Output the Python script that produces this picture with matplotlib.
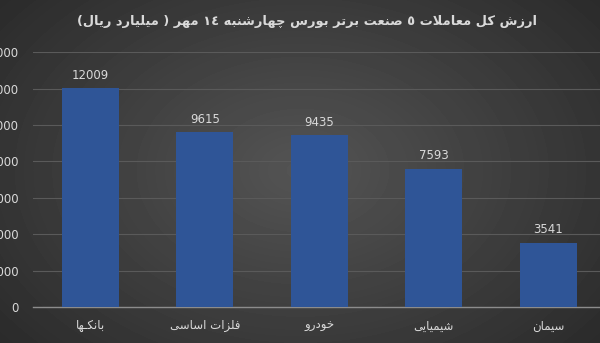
import numpy as np
import matplotlib
matplotlib.use("Agg")
import matplotlib.pyplot as plt

title = "ارزش کل معاملات ٥ صنعت برتر بورس چهارشنبه ١٤ مهر ( میلیارد ریال)"
categories = ["بانکـها", "فلزات اساسی", "خودرو", "شیمیایی", "سیمان"]
values = [12009, 9615, 9435, 7593, 3541]
yticks = [0, 2000, 4000, 6000, 8000, 10000, 12000, 14000]

# minimal arabic shaping (matplotlib has no shaping engine)
FORMS = {
    "ا": (0xFE8D, 0xFE8E), "د": (0xFEA9, 0xFEAA), "ذ": (0xFEAB, 0xFEAC),
    "ر": (0xFEAD, 0xFEAE), "ز": (0xFEAF, 0xFEB0), "و": (0xFEED, 0xFEEE),
    "ژ": (0xFB8A, 0xFB8B), "ة": (0xFE93, 0xFE94),
    "ب": (0xFE8F, 0xFE90, 0xFE91, 0xFE92), "ت": (0xFE95, 0xFE96, 0xFE97, 0xFE98),
    "ث": (0xFE99, 0xFE9A, 0xFE9B, 0xFE9C), "ج": (0xFE9D, 0xFE9E, 0xFE9F, 0xFEA0),
    "ح": (0xFEA1, 0xFEA2, 0xFEA3, 0xFEA4), "خ": (0xFEA5, 0xFEA6, 0xFEA7, 0xFEA8),
    "س": (0xFEB1, 0xFEB2, 0xFEB3, 0xFEB4), "ش": (0xFEB5, 0xFEB6, 0xFEB7, 0xFEB8),
    "ص": (0xFEB9, 0xFEBA, 0xFEBB, 0xFEBC), "ض": (0xFEBD, 0xFEBE, 0xFEBF, 0xFEC0),
    "ط": (0xFEC1, 0xFEC2, 0xFEC3, 0xFEC4), "ظ": (0xFEC5, 0xFEC6, 0xFEC7, 0xFEC8),
    "ع": (0xFEC9, 0xFECA, 0xFECB, 0xFECC), "غ": (0xFECD, 0xFECE, 0xFECF, 0xFED0),
    "ف": (0xFED1, 0xFED2, 0xFED3, 0xFED4), "ق": (0xFED5, 0xFED6, 0xFED7, 0xFED8),
    "ك": (0xFED9, 0xFEDA, 0xFEDB, 0xFEDC), "ل": (0xFEDD, 0xFEDE, 0xFEDF, 0xFEE0),
    "م": (0xFEE1, 0xFEE2, 0xFEE3, 0xFEE4), "ن": (0xFEE5, 0xFEE6, 0xFEE7, 0xFEE8),
    "ه": (0xFEE9, 0xFEEA, 0xFEEB, 0xFEEC), "ي": (0xFEF1, 0xFEF2, 0xFEF3, 0xFEF4),
    "پ": (0xFB56, 0xFB57, 0xFB58, 0xFB59), "چ": (0xFB7A, 0xFB7B, 0xFB7C, 0xFB7D),
    "ک": (0xFB8E, 0xFB8F, 0xFB90, 0xFB91), "گ": (0xFB92, 0xFB93, 0xFB94, 0xFB95),
    "ی": (0xFBFC, 0xFBFD, 0xFBFE, 0xFBFF),
}
TATWEEL = "\u0640"


def joins_next(c):
    return c == TATWEEL or (c in FORMS and len(FORMS[c]) == 4)


def joins(c):
    return c == TATWEEL or c in FORMS


def shape(s):
    s = s.replace("لا", "\uFEFB")
    out = []
    for i, c in enumerate(s):
        if c == "\uFEFB":
            prev = s[i - 1] if i > 0 else ""
            out.append("\uFEFC" if joins_next(prev) else c)
            continue
        if c not in FORMS:
            out.append(c)
            continue
        prev = s[i - 1] if i > 0 else ""
        nxt = s[i + 1] if i + 1 < len(s) else ""
        p = joins_next(prev)
        n = joins_next(c) and (joins(nxt) or nxt == "\uFEFB")
        f = FORMS[c]
        if p and n:
            out.append(chr(f[3]))
        elif p:
            out.append(chr(f[1]))
        elif n:
            out.append(chr(f[2]))
        else:
            out.append(chr(f[0]))
    vis = "".join(out)[::-1]
    vis = vis.translate(str.maketrans("()", ")("))
    # keep digit runs left to right
    res, run = "", ""
    for ch in vis:
        if ch.isdigit():
            run += ch
        else:
            res += run[::-1] + ch
            run = ""
    return res + run[::-1]


txt = "#d9d9d9"
fig = plt.figure(figsize=(6, 3.43), dpi=100)

# dark radial background
bg = fig.add_axes([0, 0, 1, 1])
yy, xx = np.mgrid[0:343, 0:600]
r = np.sqrt(((xx - 300) / 360.0) ** 2 + ((yy - 170) / 250.0) ** 2)
shade = np.clip(0.33 - 0.15 * r, 0.16, 0.33)
bg.imshow(shade, cmap="gray", vmin=0, vmax=1, aspect="auto")
bg.axis("off")

ax = fig.add_axes([0.055, 0.105, 0.954, 0.743])
ax.patch.set_alpha(0)
x = np.arange(len(categories))
bars = ax.bar(x, values, width=0.5, color="#2f5597", zorder=3)
for b, v in zip(bars, values):
    ax.text(b.get_x() + b.get_width() / 2, v + 350, str(v), ha="center",
            va="bottom", color=txt, fontsize=8.5)

ax.set_xlim(-0.5, 4.5)
ax.set_ylim(0, 14000)
ax.set_yticks(yticks)
ax.set_yticklabels([str(t) for t in yticks])
ax.set_xticks(x)
ax.set_xticklabels([shape(c) for c in categories])
ax.tick_params(axis="y", length=0, pad=10, colors=txt, labelsize=8.5)
ax.tick_params(axis="x", length=0, pad=9, colors=txt, labelsize=8.5)
ax.grid(axis="y", color="#5a5a5a", linewidth=0.8, zorder=0)
for s in ["top", "right", "left"]:
    ax.spines[s].set_visible(False)
ax.spines["bottom"].set_color("#8c8c8c")
ax.spines["bottom"].set_linewidth(1)

fig.text(0.512, 0.938, shape(title), ha="center", va="center", color=txt,
         fontsize=9.4, fontweight="bold")

fig.savefig("out.png", dpi=100)
